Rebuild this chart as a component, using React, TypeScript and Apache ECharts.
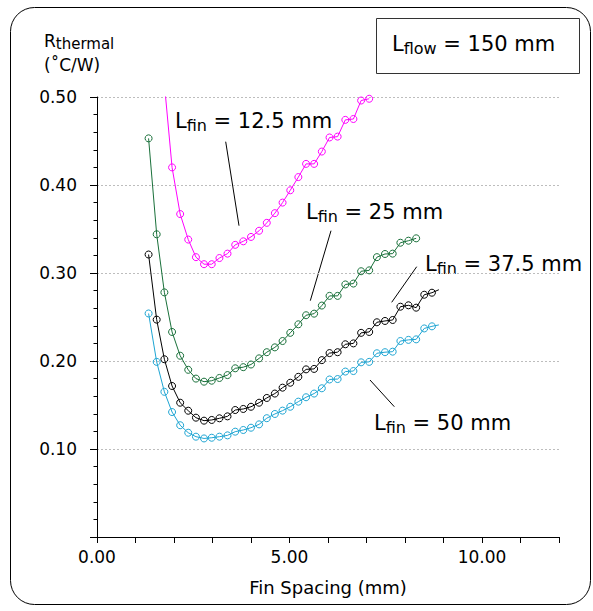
import React, { useEffect, useRef } from "react";
import * as echarts from "echarts";

// Fin spacing (mm) – x positions of the computed points
const finSpacing = [
  1.34, 1.55, 1.75, 1.95, 2.16, 2.37, 2.57, 2.78, 2.98, 3.18, 3.39, 3.59, 3.8,
  4.0, 4.21, 4.41, 4.62, 4.82, 5.02, 5.23, 5.43, 5.64, 5.84, 6.04, 6.25, 6.45,
  6.66, 6.86, 7.07, 7.27, 7.48, 7.68, 7.88, 8.09, 8.29, 8.5, 8.7,
];

// R_thermal (°C/W) for each fin length
const rFin125 = [
  null, null, 0.515, 0.42, 0.367, 0.338, 0.318, 0.31, 0.31, 0.317, 0.322, 0.332,
  0.336, 0.341, 0.348, 0.357, 0.368, 0.38, 0.394, 0.409, 0.424, 0.424, 0.438,
  0.454, 0.455, 0.474, 0.475, 0.496, 0.498, null, null, null, null, null, null,
  null, null,
];
const rFin25 = [
  0.453, 0.344, 0.278, 0.233, 0.206, 0.19, 0.18, 0.1765, 0.1776, 0.1807, 0.184,
  0.1917, 0.193, 0.196, 0.203, 0.21, 0.2155, 0.2227, 0.232, 0.2417, 0.252,
  0.2538, 0.263, 0.274, 0.274, 0.287, 0.288, 0.302, 0.303, 0.318, 0.3216, 0.322,
  0.3344, 0.3367, 0.3394, null, null,
];
const rFin375 = [
  0.321, 0.247, 0.202, 0.1716, 0.1526, 0.1435, 0.1356, 0.1322, 0.133, 0.1349,
  0.1371, 0.1443, 0.1455, 0.148, 0.1526, 0.158, 0.163, 0.1697, 0.1753, 0.182,
  0.1905, 0.191, 0.201, 0.209, 0.21, 0.219, 0.22, 0.232, 0.233, 0.244, 0.2455,
  0.2466, 0.2617, 0.2633, 0.2606, 0.2753, 0.2776,
];
const rFin50 = [
  0.254, 0.199, 0.165, 0.142, 0.127, 0.1185, 0.114, 0.112, 0.1128, 0.114,
  0.1155, 0.1197, 0.1216, 0.1242, 0.128, 0.135, 0.1398, 0.1436, 0.148, 0.1538,
  0.1588, 0.163, 0.169, 0.179, 0.1795, 0.188, 0.1886, 0.1985, 0.199, 0.2088,
  0.21, 0.2106, 0.2227, 0.224, 0.2246, 0.237, 0.2394,
];
// line ends that carry no marker
const tail375 = [8.88, 0.281];
const tail50 = [8.88, 0.241];

const seriesNames = ["Lfin = 12.5 mm", "Lfin = 25 mm", "Lfin = 37.5 mm", "Lfin = 50 mm"];
const seriesColors = ["#ff00ff", "#19703a", "#000000", "#1ea5d3"];

const FONT = "DejaVu Sans";

function buildData(vals: (number | null)[], tail?: number[]) {
  const d: any[] = [];
  vals.forEach((v, i) => {
    if (v !== null) d.push([finSpacing[i], v]);
  });
  if (tail) d.push({ value: tail, symbol: "none" });
  return d;
}

function labelText(x: number, y: number, main: string, sub: string, rest: string) {
  return {
    type: "text",
    x,
    y,
    silent: true,
    style: {
      text: `{m|${main}}{s|${sub}}{m|${rest}}`,
      align: "left",
      verticalAlign: "top",
      rich: {
        m: { fontSize: 21, fontFamily: FONT, color: "#000", lineHeight: 24 },
        s: {
          fontSize: 16,
          fontFamily: FONT,
          color: "#000",
          lineHeight: 15,
          verticalAlign: "bottom",
        },
      },
    },
  };
}

function leader(x1: number, y1: number, x2: number, y2: number) {
  return {
    type: "line",
    silent: true,
    shape: { x1, y1, x2, y2 },
    style: { stroke: "#000", lineWidth: 1 },
  };
}

export default function App() {
  const ref = useRef<HTMLDivElement>(null);

  useEffect(() => {
    if (!ref.current) return;
    const chart = echarts.init(ref.current, undefined, { renderer: "svg" });
    const allVals = [rFin125, rFin25, rFin375, rFin50];
    const tails: (number[] | undefined)[] = [undefined, undefined, tail375, tail50];

    const option: any = {
      animation: false,
      backgroundColor: "#ffffff",
      textStyle: { fontFamily: FONT },
      grid: { left: 97, top: 97, width: 462, height: 440, containLabel: false },
      xAxis: {
        type: "value",
        min: 0,
        max: 12,
        interval: 1,
        axisLine: { show: true, onZero: true, lineStyle: { color: "#000", width: 1 } },
        axisTick: { show: true, length: 6, lineStyle: { color: "#000", width: 1 } },
        axisLabel: {
          fontSize: 17,
          color: "#000",
          fontFamily: FONT,
          margin: 11,
          formatter: (v: number) => (Math.abs(v % 5) < 1e-9 ? v.toFixed(2) : ""),
        },
        splitLine: { show: false },
        name: "Fin Spacing (mm)",
        nameLocation: "middle",
        nameGap: 41,
        nameTextStyle: { fontSize: 18, color: "#000", fontFamily: FONT },
      },
      yAxis: {
        type: "value",
        min: 0,
        max: 0.5,
        interval: 0.1,
        axisLine: { show: true, lineStyle: { color: "#000", width: 1 } },
        axisTick: { show: true, length: 7, lineStyle: { color: "#000", width: 1 } },
        minorTick: { show: true, splitNumber: 5, length: 3.5, lineStyle: { color: "#000", width: 1 } },
        axisLabel: {
          fontSize: 17,
          color: "#000",
          fontFamily: FONT,
          margin: 20,
          formatter: (v: number) => (v === 0 ? "" : v.toFixed(2)),
        },
        splitLine: { show: true, lineStyle: { color: "#bdbdbd", width: 1, type: [2, 2] } },
      },
      series: allVals.map((vals, k) => ({
        name: seriesNames[k],
        type: "line",
        clip: true,
        data: buildData(vals, tails[k]),
        symbol: "circle",
        symbolSize: 7,
        showAllSymbol: true,
        connectNulls: false,
        lineStyle: { color: seriesColors[k], width: 1 },
        itemStyle: { color: "rgba(255,255,255,0)", borderColor: seriesColors[k], borderWidth: 1 },
        emphasis: { disabled: true },
        z: 3,
      })),
      graphic: [
        {
          type: "rect",
          silent: true,
          shape: { x: 10.5, y: 7.5, width: 580, height: 597, r: 24 },
          style: { fill: "none", stroke: "#000", lineWidth: 1 },
        },
        {
          type: "rect",
          silent: true,
          shape: { x: 376.5, y: 18.5, width: 203, height: 55 },
          style: { fill: "#fff", stroke: "#333", lineWidth: 1 },
        },
        labelText(392, 32, "L", "flow", " = 150 mm"),
        {
          type: "text",
          x: 44,
          y: 31,
          silent: true,
          style: {
            text: "{r|R}{s|thermal}",
            align: "left",
            verticalAlign: "top",
            rich: {
              r: { fontSize: 17, fontFamily: FONT, color: "#000", lineHeight: 20 },
              s: { fontSize: 15, fontFamily: FONT, color: "#000", lineHeight: 12, verticalAlign: "bottom" },
            },
          },
        },
        {
          type: "text",
          x: 44,
          y: 55,
          silent: true,
          style: {
            text: "{r|(˚C/W)}",
            align: "left",
            verticalAlign: "top",
            rich: { r: { fontSize: 17, fontFamily: FONT, color: "#000", lineHeight: 20 } },
          },
        },
        labelText(175, 109, "L", "fin", " = 12.5 mm"),
        leader(225.7, 141.7, 239, 225.7),
        labelText(306, 200, "L", "fin", " = 25 mm"),
        leader(331, 230.7, 310.3, 300.7),
        labelText(425, 252, "L", "fin", " = 37.5 mm"),
        leader(416.7, 266.7, 391.7, 302.3),
        labelText(374, 411, "L", "fin", " = 50 mm"),
        leader(370, 380, 394.3, 406.7),
      ],
    };

    chart.setOption(option);
    return () => chart.dispose();
  }, []);

  return (
    <div
      ref={ref}
      style={{ position: "fixed", left: 0, top: 0, width: 593, height: 611, background: "#fff" }}
    />
  );
}
